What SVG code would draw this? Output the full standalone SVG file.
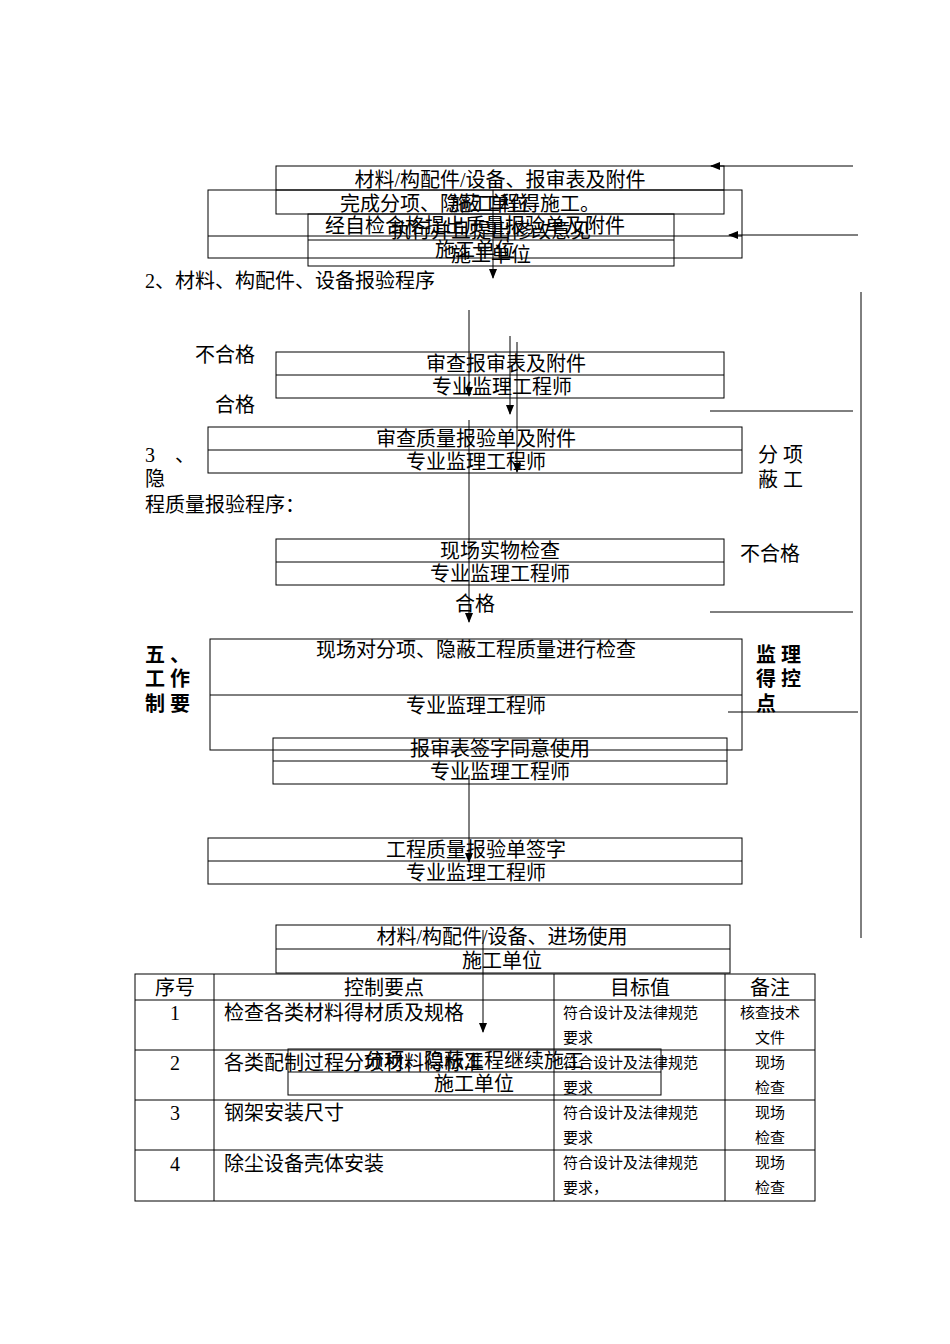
<svg xmlns="http://www.w3.org/2000/svg" width="950" height="1344" viewBox="0 0 950 1344">
<style>
text{font-family:"Liberation Serif","Noto Sans CJK SC",serif;font-size:20px;fill:#000}
.c{text-anchor:middle}
.s{font-size:15px}
.b{font-weight:bold}
rect{fill:none;stroke:#000;stroke-width:1}
line{stroke:#000;stroke-width:1}
</style>
<defs><marker id="a" markerWidth="10" markerHeight="10" refX="9" refY="5" orient="auto" markerUnits="userSpaceOnUse"><path d="M0,1 L10,5 L0,9Z" fill="#000"/></marker></defs>
<rect fill="#fff" width="950" height="1344" style="fill:#fff;stroke:none"/>
<g id="n1"><rect x="276" y="166" width="448" height="48"/><line x1="276" y1="190" x2="724" y2="190"/><text class="c" x="500" y="187">材料/构配件/设备、报审表及附件</text><text class="c" x="490" y="211">施工单位</text></g>
<g id="n2"><rect x="208" y="190" width="534" height="68"/><line x1="208" y1="236" x2="742" y2="236"/><text class="c" x="470" y="211">完成分项、隐蔽工程得施工。</text></g>
<g id="n3"><rect x="308" y="214" width="366" height="52"/><line x1="308" y1="240" x2="674" y2="240"/><text class="c" x="475" y="233">经自检合格提出质量报验单及附件</text><text class="c" x="491" y="238">执行并且提出修改意见</text><text class="c" x="475" y="257">施工单位</text><text class="c" x="491" y="262">施工单位</text></g>
<text x="145" y="288">2、材料、构配件、设备报验程序</text>
<text x="195" y="362">不合格</text><text x="215" y="412">合格</text>
<g id="n4"><rect x="276" y="352" width="448" height="46"/><line x1="276" y1="375" x2="724" y2="375"/><text class="c" x="506" y="371">审查报审表及附件</text><text class="c" x="502" y="394">专业监理工程师</text></g>
<g id="n5"><rect x="208" y="427" width="534" height="46"/><line x1="208" y1="450" x2="742" y2="450"/><text class="c" x="476" y="446">审查质量报验单及附件</text><text class="c" x="476" y="469">专业监理工程师</text></g>
<text x="145" y="462">3　、</text><text x="145" y="486">隐</text><text x="145" y="512">程质量报验程序：</text>
<text x="758" y="462">分 项</text><text x="758" y="487">蔽 工</text>
<g id="n6"><rect x="276" y="539" width="448" height="46"/><line x1="276" y1="562" x2="724" y2="562"/><text class="c" x="500" y="558">现场实物检查</text><text class="c" x="500" y="581">专业监理工程师</text></g>
<text x="740" y="561">不合格</text><text x="455" y="611">合格</text>
<g id="n7"><rect x="210" y="639" width="532" height="111"/><line x1="210" y1="695" x2="742" y2="695"/><text class="c" x="476" y="657">现场对分项、隐蔽工程质量进行检查</text><text class="c" x="476" y="713">专业监理工程师</text></g>
<text class="b" x="145" y="662">五 、</text><text class="b" x="145" y="686">工 作</text><text class="b" x="145" y="711">制 要</text>
<text class="b" x="756" y="662">监 理</text><text class="b" x="756" y="686">得 控</text><text class="b" x="756" y="711">点</text>
<g id="n8"><rect x="273" y="738" width="454" height="46"/><line x1="273" y1="761" x2="727" y2="761"/><text class="c" x="500" y="756">报审表签字同意使用</text><text class="c" x="500" y="779">专业监理工程师</text></g>
<g id="n9"><rect x="208" y="838" width="534" height="46"/><line x1="208" y1="861" x2="742" y2="861"/><text class="c" x="476" y="857">工程质量报验单签字</text><text class="c" x="476" y="880">专业监理工程师</text></g>
<g id="n10"><rect x="276" y="925" width="454" height="48"/><line x1="276" y1="949" x2="730" y2="949"/><text class="c" x="502" y="944">材料/构配件/设备、进场使用</text><text class="c" x="502" y="968">施工单位</text></g>
<g id="table">
<rect x="135" y="974" width="680" height="227"/>
<line x1="135" y1="1000" x2="815" y2="1000"/><line x1="135" y1="1050" x2="815" y2="1050"/><line x1="135" y1="1100" x2="815" y2="1100"/><line x1="135" y1="1150" x2="815" y2="1150"/>
<line x1="214" y1="974" x2="214" y2="1201"/><line x1="554" y1="974" x2="554" y2="1201"/><line x1="725" y1="974" x2="725" y2="1201"/>
<text class="c" x="175" y="995">序号</text><text class="c" x="384" y="995">控制要点</text><text class="c" x="640" y="995">目标值</text><text class="c" x="770" y="995">备注</text>
<text class="c" x="175" y="1020">1</text><text x="224" y="1020">检查各类材料得材质及规格</text><text class="s" x="563" y="1018">符合设计及法律规范</text><text class="s" x="563" y="1043">要求</text><text class="s c" x="770" y="1018">核查技术</text><text class="s c" x="770" y="1043">文件</text>
<text class="c" x="175" y="1070">2</text><text x="224" y="1070">各类配制过程分项材料得标准</text><text class="s" x="563" y="1068">符合设计及法律规范</text><text class="s" x="563" y="1093">要求</text><text class="s c" x="770" y="1068">现场</text><text class="s c" x="770" y="1093">检查</text>
<text class="c" x="175" y="1120">3</text><text x="224" y="1120">钢架安装尺寸</text><text class="s" x="563" y="1118">符合设计及法律规范</text><text class="s" x="563" y="1143">要求</text><text class="s c" x="770" y="1118">现场</text><text class="s c" x="770" y="1143">检查</text>
<text class="c" x="175" y="1171">4</text><text x="224" y="1171">除尘设备壳体安装</text><text class="s" x="563" y="1168">符合设计及法律规范</text><text class="s" x="563" y="1193">要求，</text><text class="s c" x="770" y="1168">现场</text><text class="s c" x="770" y="1193">检查</text>
</g>
<g id="n11"><rect x="288" y="1049" width="373" height="46"/><line x1="288" y1="1072" x2="661" y2="1072"/><text class="c" x="474" y="1068">分项、隐蔽工程继续施工</text><text class="c" x="474" y="1091">施工单位</text></g>
<g id="connectors">
<line x1="853" y1="166" x2="711" y2="166" marker-end="url(#a)"/>
<line x1="858" y1="235" x2="729" y2="235" marker-end="url(#a)"/>
<line x1="493" y1="190" x2="493" y2="278" marker-end="url(#a)"/>
<line x1="469" y1="310" x2="469" y2="396" marker-end="url(#a)"/>
<line x1="510" y1="336" x2="510" y2="414" marker-end="url(#a)"/>
<line x1="517" y1="342" x2="517" y2="472" marker-end="url(#a)"/>
<line x1="469" y1="420" x2="469" y2="622" marker-end="url(#a)"/>
<line x1="710" y1="411" x2="853" y2="411"/>
<line x1="710" y1="612" x2="853" y2="612"/>
<line x1="728" y1="712" x2="858" y2="712"/>
<line x1="861" y1="292" x2="861" y2="938"/>
<line x1="469" y1="775" x2="469" y2="862" marker-end="url(#a)"/>
<line x1="483" y1="930" x2="483" y2="1032" marker-end="url(#a)"/>
</g>
</svg>
